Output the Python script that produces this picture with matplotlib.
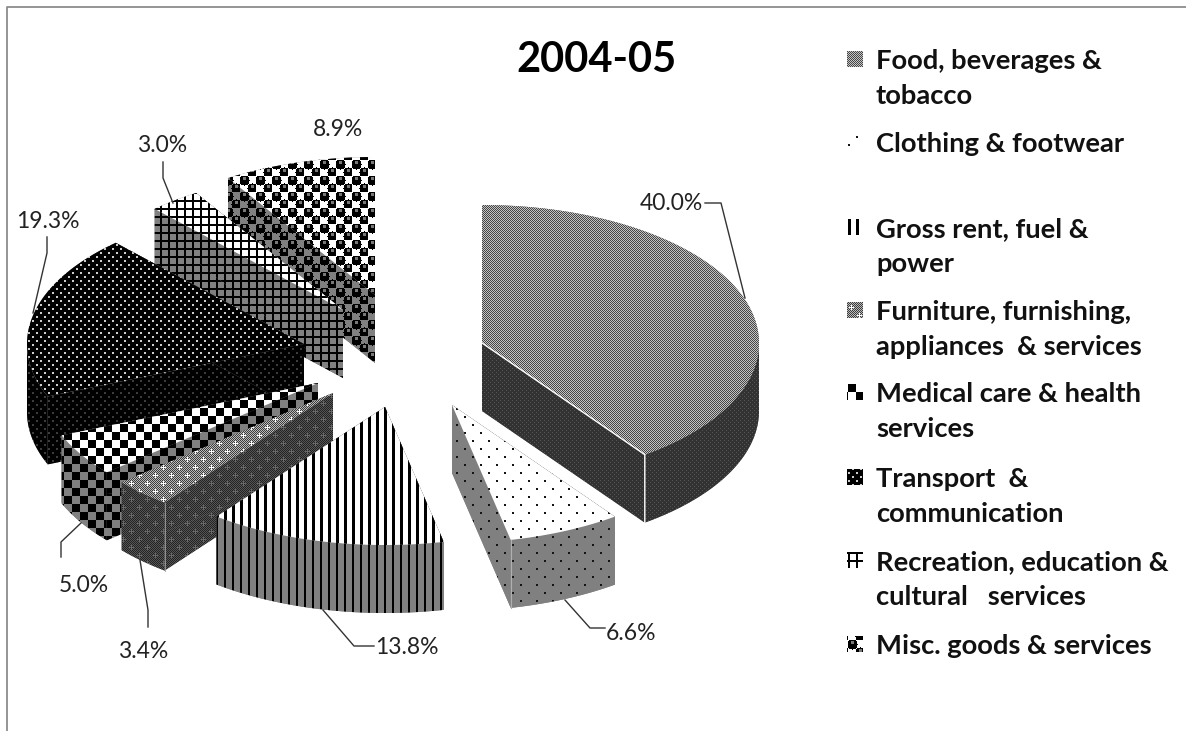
import numpy as np
import matplotlib
matplotlib.use("Agg")
import matplotlib.pyplot as plt
from matplotlib.patches import Polygon, Rectangle

# ---------------------------------------------------------
# DATA
# ---------------------------------------------------------
title = "2004-05"
shares = [40.0, 6.6, 13.8, 3.4, 5.0, 19.3, 3.0, 8.9]
share_labels = ["40.0%", "6.6%", "13.8%", "3.4%", "5.0%", "19.3%", "3.0%", "8.9%"]
categories = [
    "Food, beverages &\ntobacco",
    "Clothing & footwear",
    "Gross rent, fuel &\npower",
    "Furniture, furnishing,\nappliances  & services",
    "Medical care & health\nservices",
    "Transport  &\ncommunication",
    "Recreation, education &\ncultural   services",
    "Misc. goods & services",
]

# ---------------------------------------------------------
# LAYOUT (pixels of the 1186x731 picture)
# ---------------------------------------------------------
W, H = 1186, 731
RX, RY, DEPTH = 277, 138, 68

# apex of every exploded slice
apex_x = [482, 452, 385, 333, 318, 304, 343, 375]
apex_y = [343, 405, 407, 393, 383, 344, 310, 295]

label_x = [671, 631, 407, 143, 84, 48, 162, 338]
label_y = [204, 633, 647, 651, 586, 221, 145, 129]

leaders = [
    [(705, 203), (721, 203), (745, 298)],
    [(565, 600), (590, 628), (605, 628)],
    [(323, 610), (354, 646), (374, 646)],
    [(140, 560), (148, 610), (148, 627)],
    [(81, 523), (61, 542), (61, 557)],
    [(33, 313), (47, 253), (47, 237)],
    [(173, 203), (163, 178), (163, 162)],
    None,
]

legend_text_x = 876
legend_line_y = [61, 144, 229, 312, 394, 479, 562, 646]
legend_pitch = 35


# ---------------------------------------------------------
# FILL PATTERNS
# ---------------------------------------------------------
def checker(cell, a, b):
    t = np.full((2 * cell, 2 * cell), a)
    t[:cell, cell:] = b
    t[cell:, :cell] = b
    return t


def dots(period, size, bg, fg):
    t = np.full((period, period), bg)
    h = period // 2
    t[:size, :size] = fg
    t[h:h + size, h:h + size] = fg
    return t


def vlines(period, width, bg):
    t = np.full((1, period), bg)
    t[:, :width] = 0
    return t


def grid(period, width, bg):
    t = np.full((period, period), bg)
    t[:width, :] = 0
    t[:, :width] = 0
    return t


def stars(a, b, fg):
    t = np.tile(checker(1, a, b), (8, 8))
    for r, c in [(3, 3), (11, 11)]:
        t[r, c - 2:c + 3] = fg
        t[r - 2:r + 3, c] = fg
    return t


def balls(bg):
    t = np.full((16, 16), bg)
    yy, xx = np.mgrid[0:16, 0:16]
    for cy, cx in [(4, 4), (12, 12)]:
        t[(yy - cy) ** 2 + (xx - cx) ** 2 <= 25] = 0
        t[(yy - cy + 2) ** 2 + (xx - cx) ** 2 <= 2] = 120
    return t


top_tiles = [
    checker(1, 70, 195),
    dots(16, 2, 255, 20),
    vlines(8, 3, 255),
    stars(60, 185, 255),
    checker(8, 0, 255),
    dots(8, 2, 0, 205),
    grid(8, 2, 255),
    balls(255),
]
side_tiles = [
    dots(4, 1, 50, 85),
    dots(16, 2, 128, 20),
    vlines(8, 2, 128),
    stars(35, 85, 105),
    checker(8, 0, 128),
    dots(8, 2, 0, 60),
    grid(8, 2, 128),
    balls(128),
]


# ---------------------------------------------------------
# HELPERS
# ---------------------------------------------------------
def fill(ax, pts, tile, z):
    patch = Polygon(pts, closed=True, facecolor="#808080", edgecolor="none", zorder=z)
    ax.add_patch(patch)
    reps = (H // tile.shape[0] + 1, W // tile.shape[1] + 1)
    tex = np.tile(tile, reps)[:H, :W]
    im = ax.imshow(tex, cmap="gray", vmin=0, vmax=255, extent=(0, W, H, 0),
                   interpolation="nearest", aspect="auto", zorder=z + 0.1)
    im.set_clip_path(patch)


def rim(cx, cy, a0, a1):
    # angles are clockwise from 12 o'clock, in degrees
    t = np.radians(np.linspace(a0, a1, 80))
    return np.column_stack([cx + RX * np.sin(t), cy - RY * np.cos(t)])


def draw_slice(ax, i, a0, a1, z):
    cx, cy = apex_x[i], apex_y[i]
    down = np.array([0, DEPTH])
    apex = np.array([cx, cy])
    arc = rim(cx, cy, a0, a1)

    # radial faces
    for p in (arc[0], arc[-1]):
        fill(ax, [apex, p, p + down, apex + down], side_tiles[i], z)
        z += 0.2

    # front part of the rim only
    f0, f1 = max(a0, 90), min(a1, 270)
    if f1 > f0:
        front = rim(cx, cy, f0, f1)
        fill(ax, np.vstack([front, (front + down)[::-1]]), side_tiles[i], z)
        z += 0.2

    fill(ax, np.vstack([apex, arc]), top_tiles[i], z)
    return apex, arc


# ---------------------------------------------------------
# FIGURE
# ---------------------------------------------------------
plt.rcParams["font.family"] = ["Lato", "DejaVu Sans"]

fig = plt.figure(figsize=(W / 100, H / 100), dpi=100)
ax = fig.add_axes([0, 0, 1, 1])
ax.set_axis_off()

edges = np.concatenate([[0], np.cumsum(shares)]) * 3.6

# back to front
draw_order = [7, 6, 5, 4, 3, 2, 1, 0]
for n, i in enumerate(draw_order):
    z = 2 + n * 2
    apex, arc = draw_slice(ax, i, edges[i], edges[i + 1], z)
    if i == 0:
        ax.plot([apex[0], arc[-1][0], arc[-1][0]],
                [apex[1], arc[-1][1], arc[-1][1] + DEPTH],
                color="white", lw=1, zorder=z + 1.5)
    if i == 1:
        ax.plot([arc[-1][0]] * 2, [arc[-1][1], arc[-1][1] + DEPTH],
                color="#b0b0b0", lw=0.8, zorder=z + 1.5)
    if i == 3:
        ax.plot([arc[0][0]] * 2, [arc[0][1], arc[0][1] + DEPTH],
                color="#a0a0a0", lw=0.6, zorder=z + 1.5)

# share labels and their leader lines
for i, txt in enumerate(share_labels):
    ax.text(label_x[i], label_y[i], txt, fontsize=16.5, color="#222222",
            ha="center", va="center", zorder=40)
    if leaders[i] is not None:
        xs, ys = zip(*leaders[i])
        ax.plot(xs, ys, color="#333333", lw=1, zorder=40)

ax.text(596, 60, title, fontsize=30, fontweight="bold", color="black",
        ha="center", va="center", zorder=40)

# legend
for i, cat in enumerate(categories):
    y = legend_line_y[i]
    for j, line in enumerate(cat.split("\n")):
        ax.text(legend_text_x, y + j * legend_pitch, line, fontsize=19.7,
                fontweight="bold", color="#111111", ha="left", va="center", zorder=40)
    box = Rectangle((847, y - 10), 16, 16, facecolor="white", edgecolor="none", zorder=30)
    ax.add_patch(box)
    reps = (H // top_tiles[i].shape[0] + 1, W // top_tiles[i].shape[1] + 1)
    im = ax.imshow(np.tile(top_tiles[i], reps)[:H, :W], cmap="gray", vmin=0, vmax=255,
                   extent=(0, W, H, 0), interpolation="nearest", aspect="auto", zorder=31)
    im.set_clip_path(box)

# chart area border, only top and left are in the picture
ax.plot([6.5, 6.5, W], [H, 6.5, 6.5], color="#8c8c8c", lw=1.3, zorder=50)

ax.set_xlim(0, W)
ax.set_ylim(H, 0)

fig.savefig("out.png", dpi=100, facecolor="white")
